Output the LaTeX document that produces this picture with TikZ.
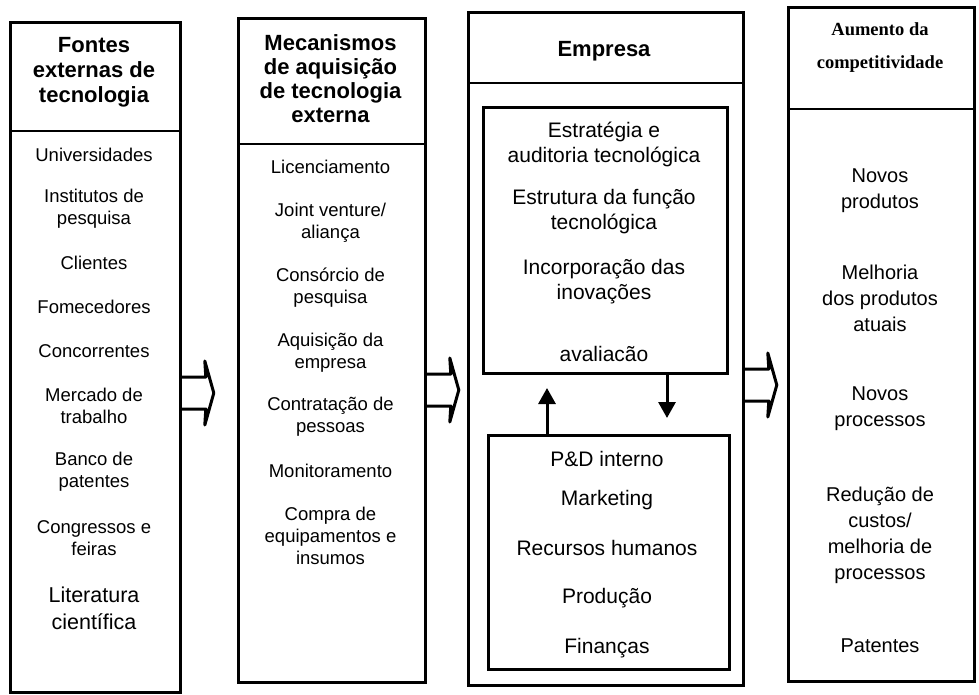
\documentclass[tikz,border=0pt]{standalone}
\usepackage{fontspec}
\setmainfont{Liberation Sans}
\newfontfamily\serifbf{Liberation Serif}
\usetikzlibrary{arrows.meta}
\tikzset{
  colbox/.style={draw, line width=2.8pt, rectangle, anchor=north west, inner sep=0pt},
  sepline/.style={line width=2.8pt},
  hdr/.style={font=\bfseries\fontsize{22}{25}\selectfont, align=center, inner sep=0pt},
  hdrB/.style={font=\bfseries\fontsize{22}{24}\selectfont, align=center, inner sep=0pt},
  hdrS/.style={font=\serifbf\bfseries\fontsize{18.5}{33}\selectfont, align=center, inner sep=0pt},
  itemA/.style={font=\fontsize{18.5}{22}\selectfont, align=center, inner sep=0pt},
  itemLit/.style={font=\fontsize{21.5}{27}\selectfont, align=center, inner sep=0pt},
  itemC/.style={font=\fontsize{21}{25}\selectfont, align=center, inner sep=0pt},
  itemD/.style={font=\fontsize{20}{26}\selectfont, align=center, inner sep=0pt},
  smallarr/.style={line width=3pt, -{Triangle[width=17pt,length=16pt]}},
  bigarr/.pic={\draw[line width=3pt, line join=round] (0,-16) -- (24,-16) -- (23,-32) -- (32,0) -- (23,32) -- (24,16) -- (0,16);}
}
\begin{document}
\begin{tikzpicture}[x=1pt,y=-1pt]
\useasboundingbox (0,0) rectangle (979,695);
\fill[white] (0,0) rectangle (979,695);

% column boxes
\node[colbox, minimum width=170pt, minimum height=670pt] (c1) at (9,21) {};
\node[colbox, minimum width=187pt, minimum height=664pt] (c2) at (237,17) {};
\node[colbox, minimum width=275pt, minimum height=673pt] (c3) at (467,11) {};
\node[colbox, minimum width=186pt, minimum height=674pt] (c4) at (787,6) {};
\node[colbox, minimum width=244pt, minimum height=266pt] (up) at (482,106) {};
\node[colbox, minimum width=241pt, minimum height=234pt] (low) at (487,434) {};

% header separators
\draw[sepline] (c1.west |- 0,131) -- (c1.east |- 0,131);
\draw[sepline] (c2.west |- 0,144) -- (c2.east |- 0,144);
\draw[sepline] (c3.west |- 0,83) -- (c3.east |- 0,83);
\draw[sepline] (c4.west |- 0,109) -- (c4.east |- 0,109);

% headers
\node[hdr] (h1) at (94,72) {Fontes\\externas de\\tecnologia};
\node[hdrB] (h2) at (330.5,79) {Mecanismos\\de aquisição\\de tecnologia\\externa};
\node[hdr] (h3) at (604,51) {Empresa};
\node[hdrS] (h4) at (880,48) {Aumento da\\competitividade};

% column 1
\node[itemA] (u1) at (94,155) {Universidades};
\node[itemA] (u2) at (94,209) {Institutos de\\pesquisa};
\node[itemA] (u3) at (94,263) {Clientes};
\node[itemA] (u4) at (94,307) {Fomecedores};
\node[itemA] (u5) at (94,351) {Concorrentes};
\node[itemA] (u6) at (94,406) {Mercado de\\trabalho};
\node[itemA] (u7) at (94,472) {Banco de\\patentes};
\node[itemA] (u8) at (94,538) {Congressos e\\feiras};
\node[itemLit] (u9) at (94,608) {Literatura\\científica};

% column 2
\node[itemA] (m1) at (330.5,167) {Licenciamento};
\node[itemA] (m2) at (330.5,222.5) {Joint venture/\\aliança};
\node[itemA] (m3) at (330.5,287.5) {Consórcio de\\pesquisa};
\node[itemA] (m4) at (330.5,352.5) {Aquisição da\\empresa};
\node[itemA] (m5) at (330.5,417) {Contratação de\\pessoas};
\node[itemA] (m6) at (330.5,471) {Monitoramento};
\node[itemA] (m7) at (330.5,536) {Compra de\\equipamentos e\\insumos};

% column 3 upper
\node[itemC] (e1) at (604,144.5) {Estratégia e\\auditoria tecnológica};
\node[itemC] (e2) at (604,211.5) {Estrutura da função\\tecnológica};
\node[itemC] (e3) at (604,281.5) {Incorporação das\\inovações};
\node[itemC] (e4) at (604,354) {avaliacão};

% column 3 lower
\node[itemC] (f1) at (607,459) {P\&D interno};
\node[itemC] (f2) at (607,500) {Marketing};
\node[itemC] (f3) at (607,548) {Recursos humanos};
\node[itemC] (f4) at (607,598) {Produção};
\node[itemC] (f5) at (607,648) {Finanças};

% column 4
\node[itemD] (r1) at (880,191) {Novos\\produtos};
\node[itemD] (r2) at (880,298) {Melhoria\\dos produtos\\atuais};
\node[itemD] (r3) at (880,409) {Novos\\processos};
\node[itemD] (r4) at (880,535) {Redução de\\custos/\\melhoria de\\processos};
\node[itemD] (r5) at (880,646) {Patentes};

% small arrows between inner boxes
\coordinate (upTip) at (547,388);
\coordinate (dnTip) at (667,418);
\draw[smallarr] (low.north -| upTip) -- (upTip);
\draw[smallarr] (up.south -| dnTip) -- (dnTip);

% big hollow arrows
\pic at (c1.east |- 0,393) {bigarr};
\pic at (c2.east |- 0,390) {bigarr};
\pic at (c3.east |- 0,385) {bigarr};
\end{tikzpicture}
\end{document}
